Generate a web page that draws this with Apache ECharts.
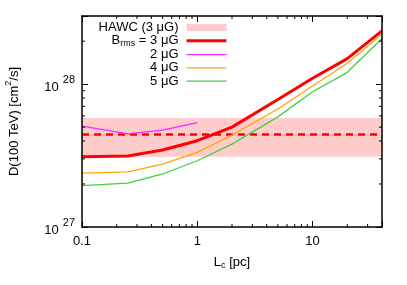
<!DOCTYPE html>
<html><head><meta charset="utf-8">
<script src="https://cdn.jsdelivr.net/npm/echarts@6/dist/echarts.min.js"></script>
<style>html,body{margin:0;padding:0;background:#fff}#c{width:407px;height:285px}</style>
</head><body><div id="c"></div>
<script>
// ---- data ----
const X_MIN = 0.1, X_MAX = 40;
const Y_MIN = 1e27, Y_MAX = 3e28;
const lc = [0.1, 0.25, 0.5, 1, 2, 5, 10, 20, 40];
const b3 = [3.1e27, 3.14e27, 3.46e27, 4.02e27, 5.0e27, 7.8e27, 1.10e28, 1.51e28, 2.36e28];
const b4 = [2.38e27, 2.43e27, 2.76e27, 3.33e27, 4.4e27, 6.7e27, 9.7e27, 1.40e28, 2.24e28];
const b5 = [1.95e27, 2.03e27, 2.35e27, 2.91e27, 3.8e27, 5.9e27, 8.85e27, 1.21e28, 2.09e28];
const lc2 = [0.1, 0.25, 0.5, 1];
const b2 = [5.09e27, 4.48e27, 4.77e27, 5.37e27];
const hawcBand = [3.1e27, 5.8e27];
const hawcCentral = 4.45e27;
const xMinorTicks = [0.2,0.3,0.4,0.5,0.6,0.7,0.8,0.9,2,3,4,5,6,7,8,9,20,30];
const yMinorTicks = [2e27,3e27,4e27,5e27,6e27,7e27,8e27,9e27,2e28];
const names = ['HAWC (3 μG)', 'B3', '2 μG', '4 μG', '5 μG'];

const FONT = 'Liberation Sans';
const FS = 13;
const pair = (xs, ys) => xs.map((x, i) => [x, ys[i]]);
const isPow10 = v => Math.abs(Math.log10(v) - Math.round(Math.log10(v))) < 1e-6;

function xAx(pos, lab) {
  return {
    type: 'log', logBase: 10, min: X_MIN, max: X_MAX, position: pos, z: 10,
    axisLine: {show: true, onZero: false, lineStyle: {color: '#000', width: 1.5}},
    axisTick: {show: true, inside: true, length: 6, lineStyle: {color: '#000', width: 1}},
    minorTick: {show: false}, splitLine: {show: false},
    axisLabel: {show: lab, color: '#000', fontFamily: FONT, fontSize: FS, margin: 8,
      formatter: v => isPow10(v) ? String(+(+v).toPrecision(6)) : ''},
    name: lab ? '{t|L}{sub|c}{t| [pc]}' : '', nameLocation: 'middle', nameGap: 27,
    nameTextStyle: {color: '#000', fontFamily: FONT, fontSize: FS,
      rich: {t: {fontFamily: FONT, fontSize: FS, color: '#000', lineHeight: 16},
             sub: {fontFamily: FONT, fontSize: 9, color: '#000', lineHeight: 10, verticalAlign: 'bottom'}}}
  };
}
function yAx(pos, lab) {
  return {
    type: 'log', logBase: 10, min: Y_MIN, max: Y_MAX, position: pos, z: 10,
    axisLine: {show: true, onZero: false, lineStyle: {color: '#000', width: 1.5}},
    axisTick: {show: true, inside: true, length: 6, lineStyle: {color: '#000', width: 1}},
    minorTick: {show: false}, splitLine: {show: false},
    axisLabel: {show: lab, color: '#000', fontFamily: FONT, fontSize: FS, margin: 7,
      formatter: v => isPow10(v) ? '{b|10}{s|' + Math.round(Math.log10(v)) + '}' : '',
      rich: {b: {fontFamily: FONT, fontSize: FS, color: '#000', lineHeight: 20, verticalAlign: 'bottom'},
             s: {fontFamily: FONT, fontSize: 11, color: '#000', lineHeight: 12, verticalAlign: 'top', padding: [0, 0, 0, 4]}}},
    name: lab ? '{t|D(100 TeV) [cm}{sup|2}{t|/s]}' : '', nameLocation: 'middle', nameGap: 61, nameRotate: 90,
    nameTextStyle: {color: '#000', fontFamily: FONT, fontSize: FS,
      rich: {t: {fontFamily: FONT, fontSize: FS, color: '#000', lineHeight: 17, verticalAlign: 'bottom'},
             sup: {fontFamily: FONT, fontSize: 9, color: '#000', lineHeight: 10, verticalAlign: 'top'}}}
  };
}

const hiddenSym = {color: 'rgba(0,0,0,0)', borderWidth: 0, opacity: 0};
const option = {
  animation: false,
  backgroundColor: '#fff',
  grid: {left: 82, right: 25, top: 16, bottom: 58, outerBoundsMode: 'none', containLabel: false},
  xAxis: [xAx('bottom', true), xAx('top', false)],
  yAxis: [yAx('left', true), yAx('right', false)],
  legend: {
    orient: 'vertical', align: 'right', right: 179, top: 21, itemGap: 0.3, padding: 0,
    itemWidth: 40, itemHeight: 7,
    data: [
      {name: names[0], icon: 'rect', itemStyle: {color: '#ffcccc'}},
      {name: names[1], itemStyle: hiddenSym, lineStyle: {width: 3}},
      {name: names[2], itemStyle: hiddenSym, lineStyle: {width: 1.3}},
      {name: names[3], itemStyle: hiddenSym, lineStyle: {width: 1.3}},
      {name: names[4], itemStyle: hiddenSym, lineStyle: {width: 1.3}}
    ],
    formatter: n => n === 'B3' ? '{t|B}{sub|rms}{t| = 3 μG}' : '{t|' + n + '}',
    textStyle: {color: '#000', fontFamily: FONT, fontSize: FS, padding: [0, 3, 0, 0],
      rich: {t: {fontFamily: FONT, fontSize: FS, color: '#000', lineHeight: 14},
             sub: {fontFamily: FONT, fontSize: 9, color: '#000', lineHeight: 12, verticalAlign: 'bottom'}}}
  },
  series: [
    {
      name: names[0], type: 'custom', coordinateSystem: 'cartesian2d', z: 1, silent: true,
      data: [[X_MIN, hawcBand[0], X_MAX, hawcBand[1]]],
      encode: {x: [0, 2], y: [1, 3]},
      itemStyle: {color: '#ffcccc'},
      renderItem: (p, api) => {
        const a = api.coord([api.value(0), api.value(3)]);
        const b = api.coord([api.value(2), api.value(1)]);
        return {type: 'rect', shape: {x: a[0], y: a[1], width: b[0] - a[0], height: b[1] - a[1]},
                style: {fill: '#ffcccc'}};
      }
    },
    {
      name: 'central', type: 'line', z: 2, symbol: 'none', silent: true,
      data: [[X_MIN, hawcCentral], [X_MAX, hawcCentral]],
      lineStyle: {color: '#ff0000', width: 2.5, type: [7, 5]}
    },
    {name: names[1], type: 'line', z: 4, symbol: 'none', data: pair(lc, b3),
     color: '#ff0000', lineStyle: {color: '#ff0000', width: 3}},
    {name: names[2], type: 'line', z: 3, symbol: 'none', data: pair(lc2, b2),
     color: '#ff22ff', lineStyle: {color: '#ff22ff', width: 1.3}},
    {name: names[3], type: 'line', z: 3, symbol: 'none', data: pair(lc, b4),
     color: '#ffa500', lineStyle: {color: '#ffa500', width: 1.3}},
    {name: names[4], type: 'line', z: 3, symbol: 'none', data: pair(lc, b5),
     color: '#44cc44', lineStyle: {color: '#44cc44', width: 1.3}},
    {
      name: 'xminor', type: 'custom', coordinateSystem: 'cartesian2d', z: 20, silent: true,
      data: xMinorTicks.map(v => [v, Y_MIN]), encode: {x: 0, y: 1},
      renderItem: (p, api) => {
        const v = api.value(0);
        const b = api.coord([v, Y_MIN]), t = api.coord([v, Y_MAX]);
        return {type: 'group', children: [
          {type: 'line', shape: {x1: b[0], y1: b[1], x2: b[0], y2: b[1] - 3}, style: {stroke: '#000', lineWidth: 1}},
          {type: 'line', shape: {x1: t[0], y1: t[1], x2: t[0], y2: t[1] + 3}, style: {stroke: '#000', lineWidth: 1}}
        ]};
      }
    },
    {
      name: 'yminor', type: 'custom', coordinateSystem: 'cartesian2d', z: 20, silent: true,
      data: yMinorTicks.map(v => [X_MIN, v]), encode: {x: 0, y: 1},
      renderItem: (p, api) => {
        const v = api.value(1);
        const l = api.coord([X_MIN, v]), r = api.coord([X_MAX, v]);
        return {type: 'group', children: [
          {type: 'line', shape: {x1: l[0], y1: l[1], x2: l[0] + 3, y2: l[1]}, style: {stroke: '#000', lineWidth: 1}},
          {type: 'line', shape: {x1: r[0], y1: r[1], x2: r[0] - 3, y2: r[1]}, style: {stroke: '#000', lineWidth: 1}}
        ]};
      }
    }
  ]
};
const chart = echarts.init(document.getElementById('c'), null, {renderer: 'canvas'});
chart.setOption(option);
</script>
</body></html>
